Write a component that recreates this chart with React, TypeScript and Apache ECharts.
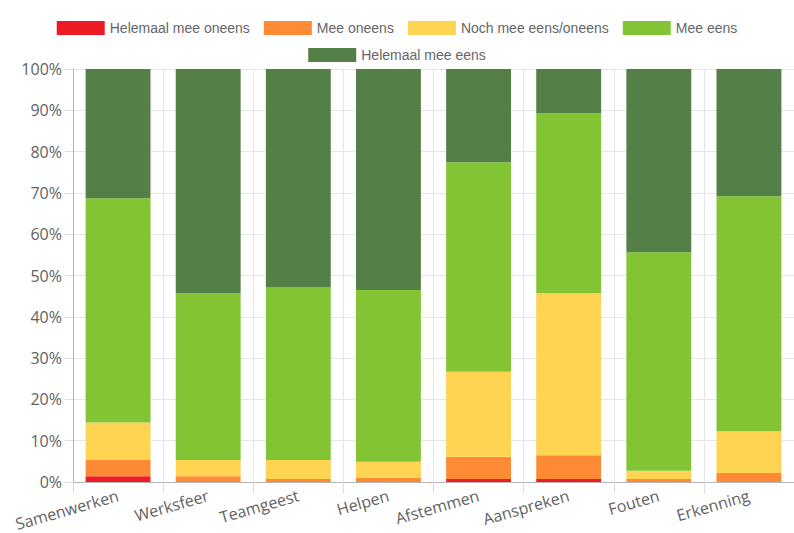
import { useEffect, useRef } from "react";
import * as echarts from "echarts";

// Survey themes along the x axis
const categories = [
  "Samenwerken",
  "Werksfeer",
  "Teamgeest",
  "Helpen",
  "Afstemmen",
  "Aanspreken",
  "Fouten",
  "Erkenning",
];

// Answer shares per theme, in percent
const helemaalMeeOneens = [1.4, 0, 0, 0, 0.7, 0.7, 0, 0];
const meeOneens = [3.9, 1.4, 0.7, 1.05, 5.4, 5.8, 0.7, 2.2];
const nochMeeEensOneens = [9.1, 3.9, 4.6, 3.85, 20.6, 39.2, 2.0, 10.1];
const meeEens = [54.3, 40.4, 41.9, 41.6, 50.7, 43.6, 52.9, 56.9];
const helemaalMeeEens = [31.3, 54.3, 52.8, 53.5, 22.6, 10.7, 44.4, 30.8];

const seriesNames = [
  "Helemaal mee oneens",
  "Mee oneens",
  "Noch mee eens/oneens",
  "Mee eens",
  "Helemaal mee eens",
];
const seriesData = [helemaalMeeOneens, meeOneens, nochMeeEensOneens, meeEens, helemaalMeeEens];
const seriesColors = ["#ed1c24", "#fe8a35", "#fed452", "#82c433", "#547f46"];

const yTicks = { min: 0, max: 100, interval: 10 };

export default function App() {
  const ref = useRef<HTMLDivElement>(null);

  useEffect(() => {
    if (!ref.current) return;
    const chart = echarts.init(ref.current, undefined, { renderer: "svg" });

    const legendText = {
      fontFamily: "Liberation Sans, Arial, sans-serif",
      fontSize: 14,
      color: "#666",
    };
    const legendBase = {
      left: "center",
      icon: "rect",
      itemWidth: 48,
      itemHeight: 14,
      itemGap: 14,
      textStyle: legendText,
      selectedMode: false,
    };

    const axisFont = {
      fontFamily: "Open Sans, sans-serif",
      fontSize: 16,
      fontWeight: 500,
      color: "#626262",
    };

    chart.setOption({
      animation: false,
      color: seriesColors,
      legend: [
        { ...legendBase, top: 16, data: seriesNames.slice(0, 4) },
        { ...legendBase, top: 43, data: seriesNames.slice(4) },
      ],
      grid: { left: 73, right: -5, top: 69, bottom: 51, containLabel: false },
      xAxis: {
        type: "category",
        data: categories,
        boundaryGap: true,
        axisLine: { show: true, lineStyle: { color: "#b5b5b5", width: 1 } },
        axisTick: { show: true, length: 11, lineStyle: { color: "#dcdcdc" } },
        splitLine: { show: true, lineStyle: { color: "#e6e6e6" } },
        axisLabel: {
          interval: 0,
          rotate: 16,
          margin: 13,
          ...axisFont,
        },
      },
      yAxis: {
        type: "value",
        ...yTicks,
        axisLine: { show: true, lineStyle: { color: "#b5b5b5", width: 1 } },
        axisTick: { show: true, length: 8, lineStyle: { color: "#dcdcdc" } },
        splitLine: { show: true, lineStyle: { color: "#e6e6e6" } },
        axisLabel: {
          formatter: "{value}%",
          margin: 11,
          ...axisFont,
        },
      },
      series: seriesNames.map((name, i) => ({
        name,
        type: "bar",
        stack: "total",
        barCategoryGap: "28%",
        data: seriesData[i],
        itemStyle: { color: seriesColors[i] },
      })),
    });

    return () => chart.dispose();
  }, []);

  return (
    <div
      ref={ref}
      style={{ position: "absolute", left: 0, top: 0, width: 794, height: 533 }}
    />
  );
}
